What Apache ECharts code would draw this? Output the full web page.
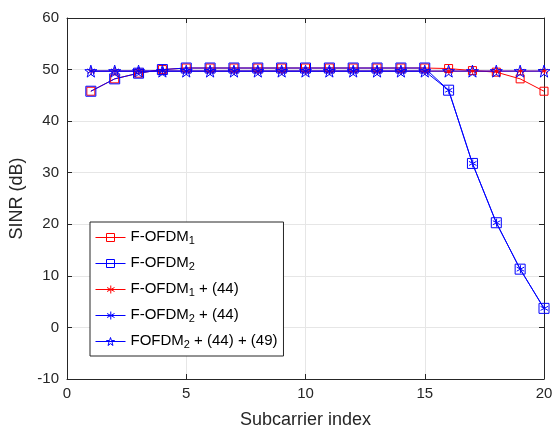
<!DOCTYPE html>
<html><head><meta charset="utf-8">
<script src="https://cdn.jsdelivr.net/npm/echarts@6/dist/echarts.min.js"></script>
<style>html,body{margin:0;padding:0;background:#fff}#c{width:557px;height:434px}</style>
</head><body><div id="c"></div>
<script>
const subcarriers = [1,2,3,4,5,6,7,8,9,10,11,12,13,14,15,16,17,18,19,20];
const fofdm1 = [45.8,48.2,49.3,50.0,50.3,50.3,50.3,50.3,50.3,50.3,50.3,50.3,50.3,50.3,50.3,50.2,49.8,49.5,48.2,45.8];
const fofdm2 = [45.8,48.2,49.3,50.0,50.3,50.3,50.3,50.3,50.3,50.3,50.3,50.3,50.3,50.3,50.3,46.0,31.8,20.3,11.3,3.7];
const fofdm1_44 = [49.7,49.7,49.7,49.7,49.7,49.7,49.7,49.7,49.7,49.7,49.7,49.7,49.7,49.7,49.7,49.7,49.7,49.7,49.7,49.7];
const fofdm2_44 = [49.7,49.7,49.7,49.7,49.7,49.7,49.7,49.7,49.7,49.7,49.7,49.7,49.7,49.7,49.7,46.0,31.8,20.3,11.3,3.7];
const fofdm2_44_49 = [49.7,49.7,49.7,49.7,49.7,49.7,49.7,49.7,49.7,49.7,49.7,49.7,49.7,49.7,49.7,49.7,49.7,49.7,49.7,49.7];
const legendNames = ['F-OFDM1','F-OFDM2','F-OFDM1 + (44)','F-OFDM2 + (44)','FOFDM2 + (44) + (49)'];
const xTicks = [0,5,10,15,20];
const yTicks = [-10,0,10,20,30,40,50,60];

const asterisk = 'path://M0,-1L0,1M-0.87,-0.5L0.87,0.5M-0.87,0.5L0.87,-0.5M-1,0L-1,0';
const star = 'path://M0,-1L0.2245,-0.309L0.951,-0.309L0.3633,0.118L0.5878,0.809L0,0.382L-0.5878,0.809L-0.3633,0.118L-0.951,-0.309L-0.2245,-0.309Z';
const RED='#ff0000', BLUE='#0000ff';
const NONE='rgba(0,0,0,0)';
const zip = a => subcarriers.map((x,i)=>[x,a[i]]);
function mk(name, data, color, symbol, size){
  return {name, type:'line', data:zip(data), symbol, symbolSize:size, showAllSymbol:true,
    lineStyle:{color, width:1}, itemStyle:{color:NONE, borderColor:color, borderWidth:1},
    emphasis:{disabled:true}, animation:false, z:2};
}
const colors = [RED, BLUE, RED, BLUE, BLUE];
const chart = echarts.init(document.getElementById('c'));
const font = 'Liberation Sans, Arial, Helvetica, sans-serif';
const axCol = '#262626';
chart.setOption({
  animation:false,
  grid:{left:67, right:13, top:18, bottom:52},
  xAxis:[{type:'value', min:xTicks[0], max:xTicks[xTicks.length-1], interval:5,
    name:'Subcarrier index', nameLocation:'middle', nameGap:32,
    nameTextStyle:{fontSize:18, color:axCol, fontFamily:font},
    axisLine:{onZero:false, lineStyle:{color:axCol}}, axisTick:{inside:true, length:5, lineStyle:{color:axCol}},
    axisLabel:{fontSize:15, color:axCol, fontFamily:font, margin:7},
    splitLine:{show:true, lineStyle:{color:'#e6e6e6'}}},
    {type:'value', position:'top', min:0, max:20, interval:5,
    axisLine:{show:true, onZero:false, lineStyle:{color:axCol}}, axisTick:{show:true, inside:true, length:5, lineStyle:{color:axCol}},
    axisLabel:{show:false}, splitLine:{show:false}}],
  yAxis:[{type:'value', min:yTicks[0], max:yTicks[yTicks.length-1], interval:10,
    name:'SINR (dB)', nameLocation:'middle', nameGap:36,
    nameTextStyle:{fontSize:18, color:axCol, fontFamily:font},
    axisLine:{show:true, onZero:false, lineStyle:{color:axCol}}, axisTick:{show:true, inside:true, length:5, lineStyle:{color:axCol}},
    axisLabel:{fontSize:15, color:axCol, fontFamily:font, margin:8},
    splitLine:{show:true, lineStyle:{color:'#e6e6e6'}}},
    {type:'value', position:'right', min:-10, max:60, interval:10,
    axisLine:{show:true, onZero:false, lineStyle:{color:axCol}}, axisTick:{show:true, inside:true, length:5, lineStyle:{color:axCol}},
    axisLabel:{show:false}, splitLine:{show:false}}],
  legend:{orient:'vertical', left:90, top:222, itemWidth:30, itemHeight:10, itemGap:9,
    padding:[7,6,6,5], backgroundColor:'#fff', borderColor:axCol, borderWidth:1, borderRadius:0,
    data:legendNames.map((n,i)=>({name:n, itemStyle:{color:NONE, borderColor:colors[i], borderWidth:1}, lineStyle:{color:colors[i], width:1}})),
    selectedMode:false,
    formatter: function(n){
      const m = n.match(/^(F?-?OFDM|FOFDM)(\d)(.*)$/);
      return '{a|'+m[1]+'}{s|'+m[2]+'}{a|'+m[3]+'}';
    },
    textStyle:{fontFamily:font, color:'#000', rich:{
      a:{fontSize:15, fontFamily:font, color:'#000', lineHeight:17, verticalAlign:'top'},
      s:{fontSize:11, fontFamily:font, color:'#000', lineHeight:17, verticalAlign:'bottom', padding:[6,0,0,0]}
    }}},
  series:[
    mk(legendNames[0], fofdm1, RED, 'rect', 8),
    mk(legendNames[1], fofdm2, BLUE, 'rect', 10),
    mk(legendNames[2], fofdm1_44, RED, asterisk, 8),
    mk(legendNames[3], fofdm2_44, BLUE, asterisk, 8),
    mk(legendNames[4], fofdm2_44_49, BLUE, star, 12)
  ]
});
</script></body></html>
